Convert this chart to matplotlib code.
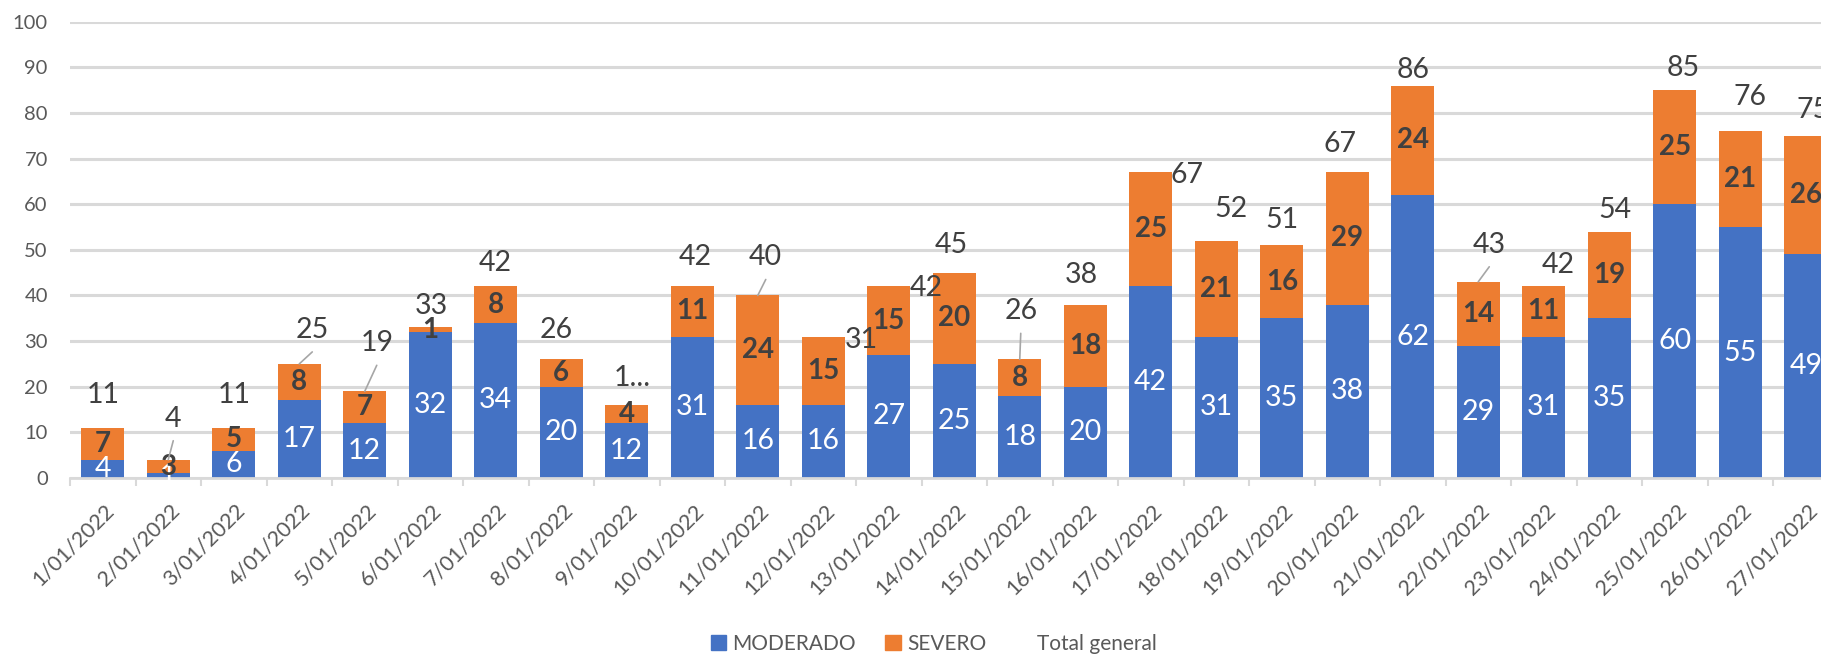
import matplotlib
matplotlib.use("Agg")
import matplotlib.pyplot as plt
import matplotlib.transforms as mtransforms
from matplotlib.patches import Patch
from matplotlib.lines import Line2D
import numpy as np

# data
dates = [f"{d}/01/2022" for d in range(1, 28)]
moderado = [4, 1, 6, 17, 12, 32, 34, 20, 12, 31, 16, 16, 27, 25, 18, 20,
            42, 31, 35, 38, 62, 29, 31, 35, 60, 55, 49]
severo = [7, 3, 5, 8, 7, 1, 8, 6, 4, 11, 24, 15, 15, 20, 8, 18,
          25, 21, 16, 29, 24, 14, 11, 19, 25, 21, 26]
total = [m + s for m, s in zip(moderado, severo)]

# label placement for the "Total general" labels (pixels from top of bar)
label_dx = [0, 5, 0, 13, 12, 1, 0, -5, 6, 3, 8, 38, 38, -3, 1, -4,
            36, 15, 0, -7, 0, 11, 15, 6, 8, 10, 7]
label_dy = [33, 41, 33, 34, 48, 21, 23, 29, 27, 29, 38, -3, -2, 28, 48, 30,
            -3, 32, 25, 28, 16, 37, 21, 22, 22, 34, 26]
leader = [1, 3, 4, 10, 14, 21]   # labels with a leader line
label_text = {8: "1..."}

BLUE = "#4472C4"
ORANGE = "#ED7D31"
GRID = "#D9D9D9"
DARK = "#404040"
GREY = "#595959"

plt.rcParams["font.family"] = ["Lato", "DejaVu Sans"]

W, H = 1821, 654
fig = plt.figure(figsize=(W / 100, H / 100), dpi=100)
x0, y0, y1 = 70, 478, 21.7
cat_w = 65.5
ax = fig.add_axes([x0 / W, (H - y0) / H, 27 * cat_w / W, (y0 - y1) / H])

x = np.arange(len(dates))
b1 = ax.bar(x, moderado, width=0.66, color=BLUE, zorder=2)
b2 = ax.bar(x, severo, width=0.66, bottom=moderado, color=ORANGE, zorder=2)

ax.bar_label(b1, label_type="center", color="white", fontsize=20.5, zorder=3)
ax.bar_label(b2, label_type="center", color=DARK, fontsize=20,
             fontweight="bold", zorder=4)

for i, t in enumerate(total):
    txt = label_text.get(i, str(t))
    ax.annotate(txt, xy=(i, t), xytext=(label_dx[i], label_dy[i]),
                textcoords="offset pixels", ha="center", va="center",
                fontsize=20.5, color=DARK, annotation_clip=False, zorder=5)
    if i in leader:
        ax.annotate("", xy=(i, t), xytext=(label_dx[i], label_dy[i] - 22),
                    textcoords="offset pixels",
                    arrowprops=dict(arrowstyle="-", color="#A6A6A6", lw=1.2,
                                    shrinkA=0, shrinkB=0),
                    annotation_clip=False, zorder=5)

ax.set_xlim(-0.5, 26.5)
ax.set_ylim(0, 100)
ax.set_yticks(range(0, 101, 10))
ax.yaxis.grid(True, color=GRID, lw=2.2, zorder=0)
ax.set_axisbelow(True)
for s in ["top", "right", "left"]:
    ax.spines[s].set_visible(False)
ax.spines["bottom"].set_color(GRID)
ax.spines["bottom"].set_linewidth(2)
ax.tick_params(axis="y", length=0, pad=16, labelsize=14.5, labelcolor=GREY)

ax.set_xticks(x)
ax.set_xticklabels(dates, rotation=45, ha="right", va="top",
                   rotation_mode="anchor")
ax.tick_params(axis="x", which="major", length=0, pad=16, labelsize=15.5,
               labelcolor=GREY)
ax.set_xticks(np.arange(-0.5, 27, 1), minor=True)
ax.tick_params(axis="x", which="minor", length=6, width=1.5, color=GRID)
shift = mtransforms.ScaledTranslation(1 / 100, 0, fig.dpi_scale_trans)
for lab in ax.get_xticklabels():
    lab.set_transform(lab.get_transform() + shift)

handles = [Patch(color=BLUE), Patch(color=ORANGE),
           Line2D([], [], linestyle="none")]
fig.legend(handles, ["MODERADO", "SEVERO", "Total general"], ncol=3,
           loc="center", bbox_to_anchor=(934 / W, 1 - 644 / H),
           bbox_transform=fig.transFigure, frameon=False, fontsize=15,
           labelcolor=GREY, handlelength=0.75, handleheight=0.75,
           handletextpad=0.3, columnspacing=1.4)

fig.savefig("out.png", dpi=100)
